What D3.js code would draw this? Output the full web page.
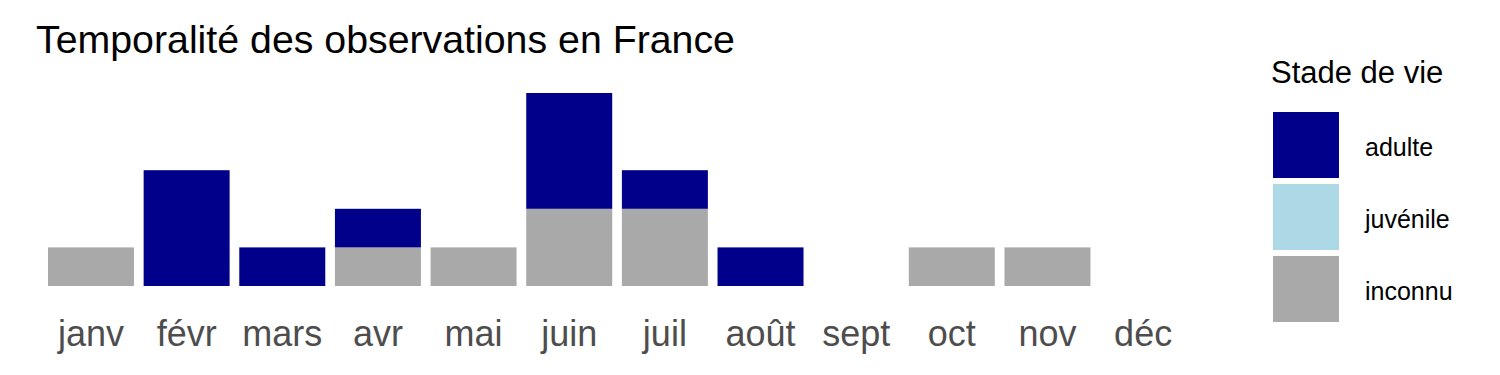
<!DOCTYPE html>
<html><head><meta charset="utf-8">
<script src="https://cdn.jsdelivr.net/npm/d3@7"></script>
<style>body{margin:0;background:#fff}svg{display:block}</style>
</head><body>
<script>
const months = ["janv","févr","mars","avr","mai","juin","juil","août","sept","oct","nov","déc"];
const adulte   = [0,3,1,1,0,3,1,1,0,0,0,0];
const juvenile = [0,0,0,0,0,0,0,0,0,0,0,0];
const inconnu  = [1,0,0,1,1,2,2,0,0,1,1,0];
const stages = ["adulte","juvénile","inconnu"];
const colors = ["#00008B","#ADD8E6","#A9A9A9"];
const title = "Temporalité des observations en France";
const legendTitle = "Stade de vie";

const W = 1500, H = 375;
const font = "'Liberation Sans', Arial, sans-serif";
const svg = d3.select("body").append("svg").attr("width", W).attr("height", H);

const rows = months.map((m, i) => ({month: m, "adulte": adulte[i], "juvénile": juvenile[i], "inconnu": inconnu[i]}));
const stack = d3.stack().keys(["inconnu","juvénile","adulte"]);
const series = stack(rows);

const x = d3.scaleBand().domain(months).range([43.2, 1190.9]).paddingInner(0.101).paddingOuter(0.05);
const y = d3.scaleLinear().domain([0, 5]).range([286, 93]);
const color = d3.scaleOrdinal().domain(stages).range(colors);

svg.append("g").selectAll("g").data(series).join("g")
  .attr("fill", d => color(d.key))
  .selectAll("rect").data(d => d.filter(s => s[1] - s[0] > 0)).join("rect")
  .attr("x", d => x(d.data.month))
  .attr("width", x.bandwidth())
  .attr("y", d => y(d[1]))
  .attr("height", d => y(d[0]) - y(d[1]));

const xAxis = svg.append("g").attr("transform", "translate(0,286)")
  .call(d3.axisBottom(x).tickSize(0).tickPadding(0));
xAxis.select(".domain").remove();
xAxis.selectAll("text").attr("dy", null).attr("y", 60)
  .attr("font-family", font).attr("font-size", 36).attr("fill", "#4D4D4D");

svg.append("text").attr("x", 36).attr("y", 53).text(title)
  .attr("font-family", font).attr("font-size", 39.3).attr("fill", "#000");

const lg = svg.append("g");
lg.append("text").attr("x", 1271).attr("y", 83).text(legendTitle)
  .attr("font-family", font).attr("font-size", 31).attr("fill", "#000");
const items = lg.selectAll("g.item").data(stages).join("g").attr("class","item")
  .attr("transform", (d, i) => `translate(1273,${112 + i * 72})`);
items.append("rect").attr("width", 66).attr("height", 66).attr("fill", d => color(d));
items.append("text").attr("x", 92).attr("y", 44).text(d => d)
  .attr("font-family", font).attr("font-size", 25).attr("fill", "#000");
</script>
</body></html>
